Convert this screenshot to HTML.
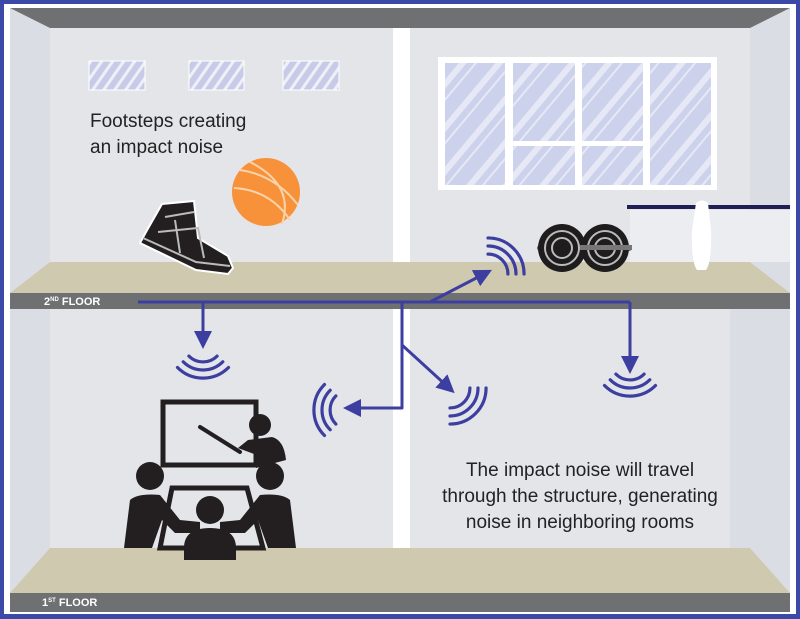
<!DOCTYPE html>
<html><head><meta charset="utf-8"><style>
html,body{margin:0;padding:0;background:#fff}
svg{display:block}
text{font-family:"Liberation Sans",sans-serif}
</style></head><body>
<svg width="800" height="619" viewBox="0 0 800 619" xmlns="http://www.w3.org/2000/svg">
<defs>
<pattern id="st" patternUnits="userSpaceOnUse" width="28" height="28" patternTransform="rotate(40)">
<rect width="28" height="28" fill="#cdd2ec"/>
<rect x="0" y="0" width="6" height="28" fill="#e6e8f5"/>
<rect x="12" y="0" width="2" height="28" fill="#e6e8f5"/>
</pattern>
<pattern id="st2" patternUnits="userSpaceOnUse" width="9" height="9" patternTransform="rotate(35)">
<rect width="9" height="9" fill="#c8cbe8"/>
<rect width="3" height="9" fill="#eef0f8"/>
</pattern>
<marker id="ah" markerWidth="6" markerHeight="6" refX="3" refY="3" orient="auto" markerUnits="strokeWidth">
<path d="M0,0 L6,3 L0,6 z" fill="#3d3fa0"/>
</marker>
<g id="w" fill="none" stroke="#3d3fa0" stroke-width="3.2" stroke-linecap="round">
<path d="M-14.1,14.1 A20 20 0 0 0 14.1,14.1"/>
<path d="M-19.8,19.8 A28 28 0 0 0 19.8,19.8"/>
<path d="M-25.5,25.5 A36 36 0 0 0 25.5,25.5"/>
</g>
</defs>
<!-- border -->
<rect x="0" y="0" width="800" height="619" fill="#3b4aa6"/>
<rect x="4" y="4" width="792" height="610" fill="#ffffff"/>
<!-- walls -->
<rect x="10" y="8" width="780" height="600" fill="#e3e5e9"/>
<polygon points="10,8 50,28 50,262 10,293" fill="#dadee4"/>
<polygon points="790,8 750,28 750,262 790,293" fill="#dadee4"/>
<polygon points="10,308 50,308 50,548 10,593" fill="#dadee4"/>
<polygon points="790,308 730,308 730,548 790,593" fill="#dadee4"/>
<!-- ceiling -->
<polygon points="10,8 790,8 750,28 50,28" fill="#6f7072"/>
<!-- divider -->
<rect x="393" y="28" width="17" height="234" fill="#ffffff"/>
<rect x="393" y="308" width="17" height="240" fill="#ffffff"/>
<!-- small windows -->
<rect x="89" y="61" width="56" height="29" fill="url(#st2)" stroke="#fff" stroke-width="1"/>
<rect x="189" y="61" width="55" height="29" fill="url(#st2)" stroke="#fff" stroke-width="1"/>
<rect x="283" y="61" width="56" height="29" fill="url(#st2)" stroke="#fff" stroke-width="1"/>
<!-- big window -->
<rect x="438" y="57" width="279" height="133" fill="#ffffff"/>
<rect x="445" y="63" width="60" height="122" fill="url(#st)"/>
<rect x="513" y="63" width="62" height="78" fill="url(#st)"/>
<rect x="513" y="146" width="62" height="39" fill="url(#st)"/>
<rect x="582" y="63" width="61" height="78" fill="url(#st)"/>
<rect x="582" y="146" width="61" height="39" fill="url(#st)"/>
<rect x="650" y="63" width="61" height="122" fill="url(#st)"/>
<!-- 2nd floor -->
<polygon points="10,293 50,262 750,262 790,293" fill="#cfc9b0"/>
<rect x="10" y="293" width="780" height="16" fill="#6f7072"/>
<text x="44" y="305" font-size="11" font-weight="bold" fill="#fff">2<tspan font-size="6" dy="-4">ND</tspan><tspan dy="4"> FLOOR</tspan></text>
<!-- 1st floor -->
<polygon points="10,593 50,548 750,548 790,593" fill="#cfc9b0"/>
<rect x="10" y="593" width="780" height="19" fill="#6f7072"/>
<text x="42" y="606" font-size="11" font-weight="bold" fill="#fff">1<tspan font-size="6" dy="-4">ST</tspan><tspan dy="4"> FLOOR</tspan></text>
<!-- gym bar & bottle -->
<rect x="630" y="210" width="160" height="52" fill="#ecedf0"/>
<rect x="627" y="205" width="163" height="4" fill="#1f1f55"/>
<path d="M696,203 Q702,198 708,203 L711,230 Q712,262 706,270 L697,270 Q691,262 692,230 Z" fill="#fff"/>
<!-- dumbbell -->
<rect x="537" y="245" width="95" height="6" rx="3" fill="#666"/>
<circle cx="562" cy="248" r="24" fill="#1e1c1c"/>
<circle cx="562" cy="248" r="17" fill="none" stroke="#bbb" stroke-width="2"/>
<circle cx="562" cy="248" r="10" fill="none" stroke="#bbb" stroke-width="2"/>
<circle cx="605" cy="248" r="24" fill="#1e1c1c"/>
<circle cx="605" cy="248" r="17" fill="none" stroke="#bbb" stroke-width="2"/>
<circle cx="605" cy="248" r="10" fill="none" stroke="#bbb" stroke-width="2"/>
<rect x="580" y="245" width="52" height="5" fill="#777"/>
<!-- ball -->
<circle cx="266" cy="192" r="34" fill="#f7923a"/>
<g fill="none" stroke="#fbd3a8" stroke-width="2">
<path d="M240,170 Q275,175 298,205"/>
<path d="M234,188 Q270,190 290,220"/>
<path d="M250,162 Q295,185 282,224"/>
</g>
<!-- shoe -->
<path d="M162,204 L194,201 L198,238 L228,256 L233,268 L228,274 L196,270 L140,243 L146,232 Z" fill="#231f20" stroke="#fff" stroke-width="2"/>
<g fill="none" stroke="#bbb" stroke-width="2">
<path d="M143,238 L196,262 L230,266"/>
<path d="M165,217 L194,212"/>
<path d="M158,232 L198,228 L204,258"/>
<path d="M175,220 L180,253"/>
</g>
<!-- meeting -->
<g fill="#231f20">
<rect x="163" y="402" width="93" height="63" fill="none" stroke="#231f20" stroke-width="5"/>
<path d="M200,427 L240,452" stroke="#231f20" stroke-width="4" stroke-linecap="round"/>
<circle cx="260" cy="425" r="11"/>
<path d="M238,448 L248,440 L272,437 Q284,440 286,460 L256,468 L254,454 Z"/>
<path d="M172,488 L247,488 L263,548 L160,548 Z" fill="none" stroke="#231f20" stroke-width="5"/>
<circle cx="150" cy="476" r="14"/>
<path d="M130,500 Q138,493 160,495 L180,520 L200,522 L200,533 L175,533 L162,520 L152,548 L124,548 Z"/>
<circle cx="270" cy="476" r="14"/>
<path d="M290,500 Q282,493 260,495 L240,520 L220,522 L220,533 L245,533 L258,520 L268,548 L296,548 Z"/>
<circle cx="210" cy="510" r="14"/>
<path d="M184,548 Q184,528 210,528 Q236,528 236,548 L236,560 L184,560 Z"/>
</g>
<!-- connectors -->
<g fill="none" stroke="#3d3fa0" stroke-width="3" stroke-linejoin="round">
<path d="M138,302 L630,302"/>
<path d="M203,302 L203,340" marker-end="url(#ah)"/>
<path d="M630,302 L630,365" marker-end="url(#ah)"/>
<path d="M402,302 L402,408 L352,408" marker-end="url(#ah)"/>
<path d="M402,345 L448,387" marker-end="url(#ah)"/>
<path d="M430,302 L484,274" marker-end="url(#ah)"/>
</g>
<use href="#w" transform="translate(203,342)"/>
<use href="#w" transform="translate(630,360)"/>
<use href="#w" transform="translate(350,410) rotate(90)"/>
<use href="#w" transform="translate(450,388) rotate(-45)"/>
<use href="#w" transform="translate(488,274) rotate(-135)"/>
<!-- text -->
<text x="90" y="127" font-size="19" fill="#222">Footsteps creating</text>
<text x="90" y="153" font-size="19" fill="#222">an impact noise</text>
<text x="580" y="476" font-size="19" fill="#222" text-anchor="middle">The impact noise will travel</text>
<text x="580" y="502" font-size="19" fill="#222" text-anchor="middle">through the structure, generating</text>
<text x="580" y="528" font-size="19" fill="#222" text-anchor="middle">noise in neighboring rooms</text>
</svg>
</body></html>
